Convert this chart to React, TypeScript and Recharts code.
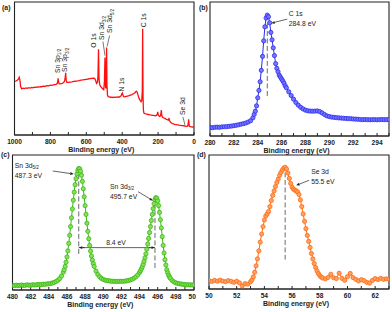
import React from 'react';
import {
  LineChart,
  Line,
  XAxis,
  YAxis,
  ReferenceArea,
  ReferenceLine,
  ReferenceDot
} from 'recharts';

const FONT = '"Liberation Sans", Arial, sans-serif';
const INK = '#222';

// (a) survey spectrum: [binding energy, intensity]
const survey: [number, number][] = [
  [1000, 40.3], [992, 40.6], [985, 41.2], [978, 42.0], [974, 43.4], [970, 41.5], [966, 36.5], [960, 34.7],
  [952, 35.2], [944, 34.9], [936, 35.4], [928, 35.1], [920, 35.6], [912, 35.3], [904, 35.8], [896, 35.5],
  [888, 36.0], [880, 35.8], [872, 36.2], [864, 36.0], [856, 36.4], [848, 36.3], [840, 36.7], [832, 36.5],
  [824, 36.9], [816, 37.1], [808, 37.0], [800, 37.4], [792, 37.3], [784, 37.7], [776, 37.9], [768, 38.1],
  [762, 38.8], [759, 40.5], [757, 42.6], [755, 40.2], [752, 38.6], [746, 38.4], [740, 38.7], [734, 38.9],
  [728, 39.3], [722, 40.2], [718, 42.5], [715, 46.7], [712, 41.0], [708, 39.6], [700, 39.5], [690, 39.8],
  [680, 40.0], [670, 40.3], [660, 40.4], [650, 40.7], [640, 40.9], [630, 41.2], [620, 41.4], [610, 41.7],
  [600, 41.9], [590, 42.1], [580, 42.4], [570, 42.6], [560, 42.8], [553, 42.5], [548, 41.0], [543, 38.8],
  [538, 39.5], [535, 44.0], [532, 64.5], [529, 42.0], [525, 37.8], [520, 36.5], [514, 35.5], [508, 34.6],
  [503, 34.0], [499, 40.0], [496, 58.2], [493, 36.0], [491, 35.0], [489, 48.0], [487, 65.8], [485, 38.0],
  [482, 30.0], [478, 28.8], [472, 28.6], [466, 28.4], [460, 28.5], [452, 28.2], [444, 28.4], [436, 28.3],
  [428, 28.6], [420, 28.4], [412, 28.8], [406, 29.6], [402, 31.0], [399, 31.6], [396, 30.0], [392, 28.8],
  [386, 28.7], [378, 29.0], [370, 29.3], [362, 29.6], [354, 30.0], [346, 30.4], [338, 31.0], [330, 31.6],
  [324, 32.6], [320, 32.8], [316, 32.0], [312, 30.0], [306, 27.5], [300, 26.0], [295, 25.0], [291, 26.0],
  [288, 33.0], [286, 79.8], [284, 30.0], [282, 19.0], [279, 16.5], [274, 16.0], [268, 15.9], [262, 15.7],
  [256, 15.4], [250, 15.3], [244, 15.1], [238, 15.0], [232, 14.8], [226, 14.7], [220, 14.6], [214, 14.5],
  [208, 14.8], [204, 16.2], [202, 17.4], [199, 15.0], [195, 14.2], [191, 13.9], [187, 14.3], [184, 16.5],
  [182, 18.7], [180, 15.2], [176, 13.6], [172, 13.0], [168, 12.8], [164, 12.6], [160, 12.3], [156, 12.0],
  [152, 11.8], [148, 11.5], [144, 11.2], [141, 11.6], [139, 12.8], [137, 11.0], [134, 10.2], [130, 9.6],
  [125, 9.0], [120, 8.6], [114, 8.3], [108, 8.0], [100, 7.8], [92, 7.6], [84, 7.4], [76, 7.3],
  [68, 7.1], [60, 7.0], [56, 6.8], [52, 6.9], [46, 6.6], [40, 6.5], [35, 6.8], [32, 8.5],
  [30, 11.8], [28, 9.0], [26, 6.6], [20, 6.3], [14, 6.1], [8, 6.0], [3, 6.2], [0, 6.1]
];
const surveyTicks = [0, 100, 200, 300, 400, 500, 600, 700, 800, 900, 1000];

// (b) C 1s
const c1s: [number, number][] = [
  [280.0, 6.4], [280.2, 6.2], [280.4, 6.5], [280.6, 6.6], [280.8, 6.5], [281.0, 6.8], [281.2, 6.9], [281.4, 7.0],
  [281.6, 7.2], [281.8, 7.4], [282.0, 7.7], [282.2, 8.0], [282.4, 8.4], [282.6, 8.8], [282.8, 9.2], [283.0, 9.7],
  [283.2, 10.4], [283.4, 11.4], [283.6, 13.6], [283.7, 16.1], [283.8, 18.5], [283.9, 22.5], [284.0, 28.5], [284.1, 34.0],
  [284.2, 40.5], [284.3, 49.0], [284.4, 59.4], [284.5, 71.0], [284.6, 81.5], [284.7, 88.0], [284.8, 90.2], [284.9, 89.0],
  [285.0, 84.5], [285.1, 77.3], [285.2, 71.8], [285.3, 65.8], [285.4, 60.0], [285.5, 54.0], [285.6, 50.5], [285.7, 48.0],
  [285.8, 45.4], [285.9, 44.0], [286.0, 42.5], [286.1, 41.2], [286.2, 39.5], [286.3, 37.5], [286.4, 36.0], [286.6, 33.0],
  [286.8, 30.2], [287.0, 27.5], [287.2, 25.0], [287.4, 23.0], [287.6, 21.4], [287.8, 20.2], [288.0, 19.3], [288.2, 18.8],
  [288.4, 18.6], [288.6, 18.5], [288.8, 18.6], [289.0, 18.7], [289.2, 18.2], [289.4, 17.2], [289.6, 16.0], [289.8, 15.0],
  [290.0, 14.5], [290.2, 14.1], [290.4, 13.9], [290.6, 13.7], [290.8, 13.5], [291.0, 13.4], [291.2, 13.2], [291.4, 13.1],
  [291.6, 13.0], [291.8, 12.9], [292.0, 12.7], [292.2, 12.6], [292.4, 12.5], [292.6, 12.3], [292.8, 12.2], [293.0, 12.3],
  [293.2, 12.2], [293.4, 12.1], [293.6, 12.2], [293.8, 12.2], [294.0, 12.1], [294.2, 12.2], [294.4, 12.3], [294.6, 12.2],
  [294.8, 12.2], [295.0, 12.3]
];
const c1sTicks = [280, 281, 282, 283, 284, 285, 286, 287, 288, 289, 290, 291, 292, 293, 294, 295];

// (c) Sn 3d
const sn3d: [number, number][] = [
  [480.0, 3.5], [480.2, 3.2], [480.4, 3.6], [480.6, 3.3], [480.8, 3.4], [481.0, 3.7], [481.2, 3.4], [481.4, 3.5],
  [481.6, 3.8], [481.8, 3.6], [482.0, 3.5], [482.2, 3.9], [482.4, 3.7], [482.6, 3.8], [482.8, 4.1], [483.0, 3.9],
  [483.2, 4.0], [483.4, 4.3], [483.6, 4.2], [483.8, 4.5], [484.0, 4.6], [484.2, 4.8], [484.4, 5.2], [484.6, 5.6],
  [484.8, 6.3], [485.0, 7.2], [485.2, 8.5], [485.4, 10.4], [485.6, 13.2], [485.7, 15.0], [485.8, 17.5], [485.9, 20.6],
  [486.0, 24.5], [486.1, 29.0], [486.2, 34.5], [486.3, 40.5], [486.4, 47.0], [486.5, 53.5], [486.6, 60.0], [486.7, 66.5],
  [486.8, 72.5], [486.9, 78.0], [487.0, 82.5], [487.1, 86.0], [487.2, 88.5], [487.3, 90.0], [487.4, 89.8], [487.5, 88.0],
  [487.6, 85.0], [487.7, 80.5], [487.8, 75.0], [487.9, 69.0], [488.0, 62.5], [488.1, 56.0], [488.2, 49.5], [488.3, 43.5],
  [488.4, 38.0], [488.5, 33.0], [488.6, 28.8], [488.7, 25.2], [488.8, 22.2], [488.9, 19.6], [489.0, 17.4], [489.2, 14.0],
  [489.4, 11.5], [489.6, 9.8], [489.8, 8.6], [490.0, 7.8], [490.2, 7.3], [490.4, 7.0], [490.6, 6.8], [490.8, 6.6],
  [491.0, 6.5], [491.2, 6.4], [491.4, 6.4], [491.6, 6.3], [491.8, 6.4], [492.0, 6.5], [492.2, 6.4], [492.4, 6.6],
  [492.6, 6.8], [492.8, 7.1], [493.0, 7.5], [493.2, 8.0], [493.4, 8.8], [493.6, 9.8], [493.8, 11.2], [494.0, 13.0],
  [494.1, 14.2], [494.2, 15.6], [494.3, 17.2], [494.4, 19.0], [494.5, 21.2], [494.6, 23.8], [494.7, 26.8], [494.8, 30.2],
  [494.9, 34.0], [495.0, 38.2], [495.1, 42.6], [495.2, 47.0], [495.3, 51.5], [495.4, 56.0], [495.5, 60.2], [495.6, 64.0],
  [495.7, 67.0], [495.8, 68.4], [495.9, 68.0], [496.0, 66.0], [496.1, 62.5], [496.2, 57.5], [496.3, 52.0], [496.4, 46.0],
  [496.5, 39.5], [496.6, 33.0], [496.7, 27.5], [496.8, 22.5], [496.9, 18.5], [497.0, 15.0], [497.1, 12.8], [497.2, 11.0],
  [497.3, 9.7], [497.4, 8.6], [497.6, 7.0], [497.8, 6.0], [498.0, 5.3], [498.2, 4.9], [498.4, 4.6], [498.6, 4.4],
  [498.8, 4.2], [499.0, 4.0], [499.2, 3.9], [499.4, 3.8], [499.6, 3.8], [499.8, 3.7], [500.0, 3.8]
];
const sn3dTicks = [480, 481, 482, 483, 484, 485, 486, 487, 488, 489, 490, 491, 492, 493, 494, 495, 496, 497, 498, 499, 500];

// (d) Se 3d
const se3d: [number, number][] = [
  [50.0, 6.2], [50.2, 5.6], [50.4, 6.4], [50.6, 5.8], [50.8, 6.6], [51.0, 5.9], [51.2, 5.4], [51.4, 6.3],
  [51.6, 5.7], [51.8, 5.0], [52.0, 5.8], [52.2, 4.6], [52.4, 2.3], [52.6, 4.0], [52.8, 3.6], [53.0, 5.4],
  [53.1, 6.8], [53.2, 9.0], [53.3, 12.5], [53.4, 17.3], [53.5, 22.5], [53.6, 28.5], [53.7, 35.0], [53.8, 41.0],
  [53.9, 46.5], [54.0, 51.5], [54.1, 54.5], [54.2, 56.0], [54.3, 57.8], [54.4, 61.5], [54.5, 66.0], [54.6, 69.8],
  [54.7, 73.2], [54.8, 76.5], [54.9, 79.5], [55.0, 82.0], [55.1, 84.8], [55.2, 87.0], [55.3, 88.8], [55.4, 90.3],
  [55.5, 90.8], [55.6, 89.5], [55.7, 86.5], [55.8, 82.5], [55.9, 78.8], [56.0, 76.0], [56.1, 74.5], [56.2, 73.8],
  [56.3, 73.2], [56.4, 72.5], [56.5, 70.5], [56.6, 66.5], [56.7, 61.5], [56.8, 56.0], [56.9, 50.5], [57.0, 45.0],
  [57.1, 40.0], [57.2, 35.5], [57.3, 31.0], [57.4, 26.5], [57.5, 22.5], [57.6, 19.0], [57.7, 16.0], [57.8, 13.5],
  [57.9, 11.5], [58.0, 10.0], [58.1, 9.0], [58.2, 8.2], [58.4, 7.6], [58.6, 8.6], [58.8, 11.0], [59.0, 8.4],
  [59.2, 7.8], [59.4, 11.8], [59.6, 8.0], [59.8, 6.5], [60.0, 9.2], [60.2, 11.6], [60.4, 8.5], [60.6, 7.2],
  [60.8, 6.0], [61.0, 7.0], [61.2, 6.2], [61.4, 5.0], [61.6, 4.4], [61.8, 6.4], [62.0, 7.8], [62.2, 7.0],
  [62.4, 8.0], [62.6, 7.2], [62.8, 7.6], [63.0, 7.4]
];
const se3dTicks = [50, 51, 52, 53, 54, 55, 56, 57, 58, 59, 60, 61, 62, 63];

const rows = (pts: [number, number][]) => pts.map(([e, i]) => ({ e, i }));

const tickStyle = { fontSize: 6.6, fontWeight: 'bold', fill: INK, fontFamily: FONT };

const xTitle = (props: any) => {
  const { x, y, width } = props.viewBox;
  return (
    <text x={x + width / 2 - 3} y={y + 16.5} textAnchor="middle" fontSize={7} fontWeight="bold" fontFamily={FONT} fill={INK}>
      Binding energy (eV)
    </text>
  );
};

const yTitle = (shift: number) => (props: any) => {
  const { x, y, height } = props.viewBox;
  const tx = x - 7;
  const ty = y + height / 2 + shift;
  return (
    <text x={tx} y={ty} transform={`rotate(-90, ${tx}, ${ty})`} textAnchor="middle" fontSize={6.6} fontWeight="bold" fontFamily={FONT} fill={INK}>
      Intensity (a. u.)
    </text>
  );
};

const arrow = (x1: number, y1: number, x2: number, y2: number) => {
  const a = Math.atan2(y2 - y1, x2 - x1);
  const L = 3.5;
  const W = 1.4;
  const bx = x2 - L * Math.cos(a);
  const by = y2 - L * Math.sin(a);
  const pts = `${x2},${y2} ${bx - W * Math.sin(a)},${by + W * Math.cos(a)} ${bx + W * Math.sin(a)},${by - W * Math.cos(a)}`;
  return (
    <g>
      <line x1={x1} y1={y1} x2={bx} y2={by} stroke={INK} strokeWidth={0.7} />
      <polygon points={pts} fill={INK} />
    </g>
  );
};

// rotated peak label for the survey
const peakLabel = (text: string, sub: string, dx: number, dy: number, lead?: number[]) => (p: any) => (
  <g>
    <text transform={`translate(${p.cx + dx},${p.cy + dy}) rotate(-90)`} fontSize={6.8} fontFamily={FONT} fill={INK}>
      {text}
      {sub ? <tspan dy={1.4} fontSize={4.6}>{sub}</tspan> : null}
    </text>
    {lead ? (
      <line x1={p.cx + lead[0]} y1={p.cy + lead[1]} x2={p.cx + lead[2]} y2={p.cy + lead[3]} stroke={INK} strokeWidth={0.6} />
    ) : null}
  </g>
);

// horizontal two-line callout with an arrow pointing at the anchor
const callout = (name: string, sub: string, value: string, dx: number, dy: number, arr: number[]) => (p: any) => (
  <g fontFamily={FONT} fontSize={6.8} fill={INK}>
    <text x={p.cx + dx} y={p.cy + dy}>
      {name}
      {sub ? <tspan dy={1.4} fontSize={4.6}>{sub}</tspan> : null}
    </text>
    <text x={p.cx + dx} y={p.cy + dy + 10}>{value}</text>
    {arrow(p.cx + arr[0], p.cy + arr[1], p.cx + arr[2], p.cy + arr[3])}
  </g>
);

const head = (dir: number) => (p: any) => arrow(p.cx - dir * 6, p.cy, p.cx, p.cy);

const Letter = ({ x, y, t }: { x: number; y: number; t: string }) => (
  <div style={{ position: 'absolute', left: x, top: y, fontFamily: FONT, fontSize: 7, fontWeight: 'bold', color: INK, lineHeight: 1 }}>
    {t}
  </div>
);

interface PanelProps {
  left: number;
  top: number;
  height: number;
  margin: { top: number; right: number; left: number; bottom: number };
  axisH: number;
  pts: [number, number][];
  ticks: number[];
  labelEvery: number;
  reversed?: boolean;
  color: string;
  width?: number;
  dotFill?: string;
  titleShift: number;
  children?: React.ReactNode;
}

const Panel = ({ left, top, height, margin, axisH, pts, ticks, labelEvery, reversed, color, width = 1, dotFill, titleShift, children }: PanelProps) => {
  const lo = ticks[0];
  const hi = ticks[ticks.length - 1];
  return (
    <div style={{ position: 'absolute', left, top }}>
      <LineChart width={196} height={height} data={rows(pts)} margin={margin}>
        <XAxis
          dataKey="e"
          type="number"
          domain={[lo, hi]}
          ticks={ticks}
          interval={0}
          reversed={reversed}
          allowDataOverflow
          height={axisH}
          tickSize={-3}
          tickMargin={7.5}
          stroke={INK}
          tick={tickStyle}
          tickFormatter={(v: number) => (Math.round(v - lo) % labelEvery === 0 ? String(v) : '')}
          label={xTitle}
        />
        <YAxis
          type="number"
          domain={[0, 100]}
          width={0}
          tick={false}
          tickLine={false}
          axisLine={false}
          label={yTitle(titleShift)}
        />
        <ReferenceArea x1={lo} x2={hi} y1={0} y2={100} fill="none" stroke={INK} strokeWidth={1.1} />
        <Line
          type="linear"
          dataKey="i"
          stroke={color}
          strokeWidth={width}
          dot={dotFill ? { r: 2.1, fill: dotFill, stroke: color, strokeWidth: 0.8 } : false}
          isAnimationActive={false}
        />
        {children}
      </LineChart>
    </div>
  );
};

const dash = { stroke: '#444', strokeWidth: 0.8, strokeDasharray: '5 2.5' };

export default function App() {
  return (
    <div style={{ position: 'fixed', left: 0, top: 0, width: 392, height: 312, background: '#fff', overflow: 'hidden' }}>
      <Panel
        left={0} top={0} height={156} axisH={21}
        margin={{ top: 2, right: 2, left: 14.5, bottom: 0 }}
        pts={survey} ticks={surveyTicks} labelEvery={200} reversed color="#ff1010" width={1.3} titleShift={9}
      >
        <ReferenceDot x={757} y={42.6} r={1} shape={peakLabel('Sn 3p', '1/2', 1.4, -5.4)} />
        <ReferenceDot x={715} y={46.7} r={1} shape={peakLabel('Sn 3p', '3/2', 1.8, -1)} />
        <ReferenceDot x={532} y={64.5} r={1} shape={peakLabel('O 1s', '', -3, -1.5)} />
        <ReferenceDot x={496} y={58.2} r={1} shape={peakLabel('Sn 3d', '3/2', -0.8, -17.6, [-2, -16, 0, -2])} />
        <ReferenceDot x={487} y={65.8} r={1} shape={peakLabel('Sn 3d', '5/2', 5.9, -14.5, [3, -12, 0.5, -1])} />
        <ReferenceDot x={399} y={31.6} r={1} shape={peakLabel('N 1s', '', 2, -1.5)} />
        <ReferenceDot x={286} y={79.8} r={1} shape={peakLabel('C 1s', '', 3.8, -1.5)} />
        <ReferenceDot x={56} y={6.8} r={1} shape={peakLabel('Se 3d', '', 1.5, -11, [-1, -9, 1, -1])} />
      </Panel>

      <Panel
        left={196} top={0} height={156} axisH={20}
        margin={{ top: 2, right: 3, left: 14, bottom: 0 }}
        pts={c1s} ticks={c1sTicks} labelEvery={2} color="#2b2bf0" dotFill="#7676ff" titleShift={11}
      >
        <ReferenceLine segment={[{ x: 284.8, y: 84 }, { x: 284.8, y: 29 }]} {...dash} />
        <ReferenceDot x={284.8} y={90.2} r={1} shape={callout('C 1s', '', '284.8 eV', 21.5, 1, [20, 4, 4, 8])} />
      </Panel>

      <Panel
        left={0} top={154} height={158} axisH={22}
        margin={{ top: 1, right: 2, left: 12.5, bottom: 0 }}
        pts={sn3d} ticks={sn3dTicks} labelEvery={2} color="#38b80c" dotFill="#86e060" titleShift={0}
      >
        <ReferenceLine segment={[{ x: 487.3, y: 86 }, { x: 487.3, y: 26 }]} {...dash} />
        <ReferenceLine segment={[{ x: 495.7, y: 64.5 }, { x: 495.7, y: 16 }]} {...dash} />
        <ReferenceLine segment={[{ x: 487.3, y: 31.4 }, { x: 495.7, y: 31.4 }]} stroke={INK} strokeWidth={0.7} />
        <ReferenceDot x={487.3} y={31.4} r={1} shape={head(-1)} />
        <ReferenceDot x={495.7} y={31.4} r={1} shape={head(1)} />
        <ReferenceDot
          x={491.4} y={31.4} r={1}
          shape={(p: any) => (
            <text x={p.cx} y={p.cy - 2.5} textAnchor="middle" fontSize={6.8} fontFamily={FONT} fill={INK}>8.4 eV</text>
          )}
        />
        <ReferenceDot x={487.3} y={90} r={1} shape={callout('Sn 3d', '5/2', '487.3 eV', -64, -1, [-26, 2.5, -5, 5.5])} />
        <ReferenceDot x={495.7} y={68.4} r={1} shape={callout('Sn 3d', '3/2', '495.7 eV', -45, -9, [-17, -6, -2, 3])} />
      </Panel>

      <Panel
        left={196} top={154} height={158} axisH={23}
        margin={{ top: 1, right: 3, left: 13, bottom: 0 }}
        pts={se3d} ticks={se3dTicks} labelEvery={2} color="#ff6a10" dotFill="#ffa060" titleShift={4}
      >
        <ReferenceLine segment={[{ x: 55.5, y: 87 }, { x: 55.5, y: 22 }]} {...dash} />
        <ReferenceDot x={55.5} y={90.8} r={1} shape={callout('Se 3d', '', '55.5 eV', 26, 7, [24, 13, 11, 18])} />
      </Panel>

      <Letter x={2} y={4} t="(a)" />
      <Letter x={199} y={4} t="(b)" />
      <Letter x={1} y={151} t="(c)" />
      <Letter x={197} y={151} t="(d)" />
    </div>
  );
}
